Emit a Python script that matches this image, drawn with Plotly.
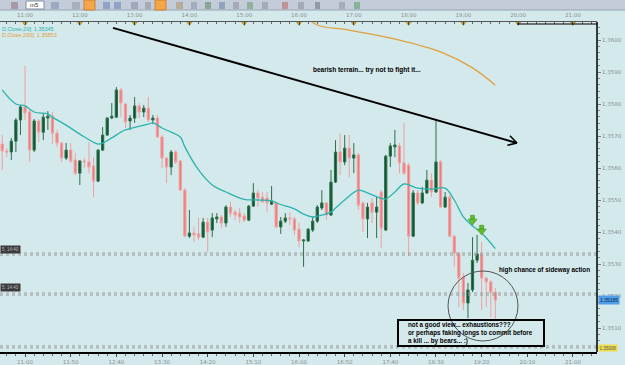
import plotly.graph_objects as go
import pandas as pd

DAY = "2011-06-14"
times = pd.date_range(f"{DAY} 10:35", periods=109, freq="5min")

opens = [1.35675, 1.35653, 1.35650, 1.35684, 1.35750, 1.35791, 1.35775, 1.35656, 1.35747, 1.35712,
         1.35756, 1.35762, 1.35709, 1.35678, 1.35631, 1.35656, 1.35625, 1.35584, 1.35622, 1.35619,
         1.35606, 1.35559, 1.35656, 1.35703, 1.35756, 1.35759, 1.35844, 1.35800, 1.35747, 1.35756,
         1.35794, 1.35775, 1.35787, 1.35750, 1.35756, 1.35697, 1.35631, 1.35603, 1.35650, 1.35622,
         1.35531, 1.35387, 1.35397, 1.35394, 1.35384, 1.35431, 1.35406, 1.35441, 1.35447, 1.35428,
         1.35478, 1.35462, 1.35459, 1.35450, 1.35437, 1.35481, 1.35522, 1.35509, 1.35506, 1.35487,
         1.35491, 1.35416, 1.35434, 1.35444, 1.35441, 1.35409, 1.35372, 1.35372, 1.35406, 1.35434,
         1.35475, 1.35491, 1.35453, 1.35556, 1.35650, 1.35619, 1.35662, 1.35631, 1.35641, 1.35491,
         1.35441, 1.35491, 1.35462, 1.35525, 1.35406, 1.35637, 1.35666, 1.35669, 1.35616, 1.35609,
         1.35387, 1.35522, 1.35491, 1.35522, 1.35562, 1.35525, 1.35619, 1.35478, 1.35509, 1.35387,
         1.35334, 1.35259, 1.35178, 1.35219, 1.35312, 1.35331, 1.35256, 1.35244, 1.35212]
highs = [1.35703, 1.35662, 1.35694, 1.35756, 1.35797, 1.35919, 1.35781, 1.35753, 1.35753, 1.35772,
         1.35778, 1.35775, 1.35719, 1.35681, 1.35678, 1.35678, 1.35647, 1.35625, 1.35631, 1.35681,
         1.35634, 1.35659, 1.35728, 1.35759, 1.35803, 1.35853, 1.35850, 1.35803, 1.35766, 1.35822,
         1.35803, 1.35797, 1.35822, 1.35766, 1.35766, 1.35703, 1.35634, 1.35656, 1.35656, 1.35625,
         1.35537, 1.35469, 1.35416, 1.35444, 1.35444, 1.35444, 1.35459, 1.35459, 1.35453, 1.35484,
         1.35494, 1.35469, 1.35475, 1.35459, 1.35484, 1.35553, 1.35531, 1.35525, 1.35525, 1.35544,
         1.35494, 1.35447, 1.35459, 1.35462, 1.35447, 1.35428, 1.35378, 1.35412, 1.35447, 1.35484,
         1.35531, 1.35494, 1.35594, 1.35687, 1.35709, 1.35703, 1.35703, 1.35678, 1.35647, 1.35494,
         1.35491, 1.35506, 1.35509, 1.35531, 1.35641, 1.35678, 1.35719, 1.35678, 1.35741, 1.35616,
         1.35531, 1.35531, 1.35541, 1.35594, 1.35584, 1.35750, 1.35625, 1.35525, 1.35516, 1.35391,
         1.35337, 1.35272, 1.35241, 1.35384, 1.35391, 1.35369, 1.35259, 1.35250, 1.35225]
lows = [1.35594, 1.35634, 1.35625, 1.35650, 1.35703, 1.35750, 1.35619, 1.35650, 1.35681, 1.35687,
        1.35719, 1.35675, 1.35666, 1.35619, 1.35625, 1.35616, 1.35578, 1.35547, 1.35600, 1.35584,
        1.35509, 1.35556, 1.35653, 1.35700, 1.35753, 1.35756, 1.35759, 1.35725, 1.35719, 1.35741,
        1.35756, 1.35759, 1.35744, 1.35737, 1.35694, 1.35600, 1.35553, 1.35578, 1.35612, 1.35528,
        1.35384, 1.35381, 1.35369, 1.35375, 1.35381, 1.35337, 1.35384, 1.35428, 1.35412, 1.35416,
        1.35447, 1.35437, 1.35428, 1.35431, 1.35434, 1.35478, 1.35478, 1.35491, 1.35462, 1.35484,
        1.35412, 1.35394, 1.35428, 1.35422, 1.35391, 1.35353, 1.35291, 1.35369, 1.35400, 1.35428,
        1.35469, 1.35437, 1.35450, 1.35553, 1.35578, 1.35609, 1.35572, 1.35584, 1.35469, 1.35400,
        1.35381, 1.35428, 1.35381, 1.35350, 1.35403, 1.35603, 1.35634, 1.35584, 1.35578, 1.35325,
        1.35384, 1.35484, 1.35487, 1.35519, 1.35509, 1.35522, 1.35475, 1.35475, 1.35384, 1.35291,
        1.35166, 1.35156, 1.35131, 1.35212, 1.35303, 1.35156, 1.35166, 1.35134, 1.35125]
closes = [1.35653, 1.35650, 1.35684, 1.35750, 1.35791, 1.35772, 1.35656, 1.35747, 1.35712, 1.35759,
          1.35762, 1.35709, 1.35678, 1.35631, 1.35656, 1.35622, 1.35584, 1.35622, 1.35619, 1.35603,
          1.35559, 1.35656, 1.35703, 1.35756, 1.35762, 1.35844, 1.35803, 1.35744, 1.35756, 1.35794,
          1.35775, 1.35787, 1.35750, 1.35756, 1.35697, 1.35631, 1.35603, 1.35650, 1.35619, 1.35531,
          1.35387, 1.35397, 1.35391, 1.35384, 1.35431, 1.35400, 1.35444, 1.35447, 1.35428, 1.35478,
          1.35459, 1.35453, 1.35447, 1.35437, 1.35481, 1.35522, 1.35506, 1.35494, 1.35491, 1.35497,
          1.35416, 1.35434, 1.35444, 1.35441, 1.35406, 1.35372, 1.35375, 1.35409, 1.35434, 1.35478,
          1.35491, 1.35453, 1.35556, 1.35650, 1.35619, 1.35662, 1.35631, 1.35641, 1.35484, 1.35441,
          1.35478, 1.35462, 1.35478, 1.35412, 1.35637, 1.35669, 1.35672, 1.35616, 1.35584, 1.35387,
          1.35522, 1.35491, 1.35522, 1.35562, 1.35525, 1.35619, 1.35478, 1.35509, 1.35387, 1.35334,
          1.35256, 1.35178, 1.35219, 1.35312, 1.35331, 1.35256, 1.35244, 1.35212, 1.35187]

# moving averages (candle index -> value)
ma20_idx = [0, 3, 5, 7, 10, 11, 14, 18, 21, 22, 24, 26, 27, 29, 32, 33, 35, 37, 39, 40,
            43, 46, 49, 53, 56, 59, 61, 64, 66, 68, 70, 72, 73, 75, 78, 80, 83, 84, 86, 88,
            91, 94, 97, 99, 101, 103, 105, 108]
ma20_val = [1.35844, 1.35800, 1.35794, 1.35775, 1.35769, 1.35759, 1.35734, 1.35697, 1.35675, 1.35678,
            1.35694, 1.35712, 1.35719, 1.35727, 1.35737, 1.35741, 1.35725, 1.35712, 1.35697, 1.35666,
            1.35594, 1.35547, 1.35525, 1.35502, 1.35500, 1.35497, 1.35486, 1.35472, 1.35456, 1.35447,
            1.35453, 1.35462, 1.35475, 1.35500, 1.35531, 1.35522, 1.35505, 1.35503, 1.35525, 1.35550,
            1.35537, 1.35534, 1.35537, 1.35500, 1.35447, 1.35419, 1.35397, 1.35348]
ma200_idx = [66, 69, 76, 87, 96, 103, 108]
ma200_val = [1.36080, 1.36047, 1.36031, 1.36000, 1.35963, 1.35913, 1.35859]

levels = [1.35331, 1.35206, 1.35041]
signal_idx = [103, 105]
signal_val = [1.35434, 1.35403]
hour_marks = [f"{DAY} {h:02d}:00" for h in range(11, 22)]

W, H = 625, 365
BG = "#d4e9eb"
def px(x): return x / W
def py(y): return 1 - y / H

XR = [f"{DAY} 10:32:36", f"{DAY} 21:26:18"]
YR = [1.35025, 1.360563]

fig = go.Figure()
fig.add_trace(go.Candlestick(
    x=times, open=opens, high=highs, low=lows, close=closes,
    increasing=dict(line=dict(color="#2f6e4c", width=1), fillcolor="#0a5530"),
    decreasing=dict(line=dict(color="#f0a0a0", width=1), fillcolor="#f07878"),
    whiskerwidth=0, showlegend=False, hoverinfo="skip"))
fig.add_trace(go.Scatter(x=[times[i] for i in ma20_idx], y=ma20_val, mode="lines",
                         line=dict(color="#2bb3ad", width=1.3, shape="spline"), showlegend=False))
fig.add_trace(go.Scatter(x=[times[i] for i in ma200_idx], y=ma200_val, mode="lines",
                         line=dict(color="#e0a040", width=1.3, shape="spline"), showlegend=False))
# signal arrows (shaft + head)
fig.add_trace(go.Scatter(x=[times[i] for i in signal_idx], y=[v + 0.00012 for v in signal_val],
                         mode="markers", marker=dict(symbol="square", size=4, color="#5fbf2f",
                         line=dict(color="#3a8a1a", width=0.5)), showlegend=False))
fig.add_trace(go.Scatter(x=[times[i] for i in signal_idx], y=signal_val,
                         mode="markers", marker=dict(symbol="triangle-down", size=8, color="#5fbf2f",
                         line=dict(color="#3a8a1a", width=0.5)), showlegend=False))
# gold hour markers sitting on the top time axis
fig.add_trace(go.Scatter(x=hour_marks, y=[YR[1] - 0.00003] * len(hour_marks), mode="markers",
                         cliponaxis=False, marker=dict(symbol="triangle-down", size=5, color="#d0a52a",
                         line=dict(color="#9a7a20", width=0.5)), showlegend=False, hoverinfo="skip"))
# dummy trace for top axis
fig.add_trace(go.Scatter(x=[times[0]], y=[None], xaxis="x2", showlegend=False))

shapes = []
# toolbar
shapes.append(dict(type="rect", xref="paper", yref="paper", x0=0, x1=1, y0=py(10), y1=1,
                   fillcolor="#c3ccd9", line=dict(width=0), layer="above"))
shapes.append(dict(type="line", xref="paper", yref="paper", x0=0, x1=1, y0=py(10), y1=py(10),
                   line=dict(color="#9aa4b2", width=1), layer="above"))
icons = [(11, 18, "#8a6f7a"), (51, 59, "#7b8bb0"), (72, 80, "#8e97a8"), (103, 110, "#6a7fb8"),
         (114, 121, "#6a7fb8"), (131, 138, "#7f8aa0"), (145, 151, "#8a8f99"), (176, 183, "#b09060"),
         (191, 197, "#8a90a0"), (205, 211, "#5a8a5a"), (219, 225, "#6a80a0"), (233, 239, "#8a8f99"),
         (247, 253, "#6a9a6a"), (262, 268, "#8a8f99"), (282, 288, "#c06060"), (298, 304, "#8a8f99"),
         (315, 320, "#6a7080"), (339, 345, "#9090a0"), (354, 360, "#5a9a6a")]
for a, b, c in icons:
    shapes.append(dict(type="rect", xref="paper", yref="paper", x0=px(a), x1=px(b), y0=py(9), y1=py(2),
                       fillcolor=c, line=dict(width=0), opacity=0.55, layer="above"))
for a, b in [(84, 95), (155, 166)]:
    shapes.append(dict(type="rect", xref="paper", yref="paper", x0=px(a), x1=px(b), y0=py(10), y1=py(0),
                       fillcolor="#f3a64a", line=dict(color="#d08030", width=1), layer="above"))
shapes.append(dict(type="rect", xref="paper", yref="paper", x0=px(26), x1=px(44), y0=py(9), y1=py(1),
                   fillcolor="white", line=dict(color="#8090a0", width=1), layer="above"))
# dotted double level lines
for lv in levels:
    for off in (0.00003, -0.00003):
        shapes.append(dict(type="line", xref="paper", yref="y", x0=0, x1=px(597), y0=lv + off, y1=lv + off,
                           line=dict(color="#9a9a9a", width=1, dash="dot")))
# trend line with open arrow head
shapes.append(dict(type="line", xref="x", yref="y", x0=f"{DAY} 12:36:18", y0=1.36038,
                   x1=f"{DAY} 19:58:42", y1=1.35678, line=dict(color="black", width=2)))
for ax_, ay_ in [(f"{DAY} 19:51:00", 1.35701), (f"{DAY} 19:48:06", 1.35671)]:
    shapes.append(dict(type="line", xref="x", yref="y", x0=ax_, y0=ay_,
                       x1=f"{DAY} 19:58:42", y1=1.35678, line=dict(color="black", width=1.5)))
# circle and note box
shapes.append(dict(type="circle", xref="paper", yref="paper", x0=px(448), x1=px(518), y0=py(341), y1=py(271),
                   line=dict(color="#555555", width=1)))
shapes.append(dict(type="rect", xref="paper", yref="paper", x0=px(398), x1=px(544), y0=py(346), y1=py(320),
                   line=dict(color="black", width=2), fillcolor="rgba(0,0,0,0)"))
# right frame and top-right frame edge
shapes.append(dict(type="line", xref="paper", yref="paper", x0=px(597), x1=px(597), y0=py(352), y1=py(22),
                   line=dict(color="black", width=1.5)))
shapes.append(dict(type="line", xref="paper", yref="paper", x0=px(517), x1=px(597), y0=py(24), y1=py(24),
                   line=dict(color="black", width=1.2)))

ann = []
F = "Liberation Sans"
ann.append(dict(text="D,Close,20]: 1.35345", x=0, y=py(29), xref="paper", yref="paper", xanchor="left",
                yanchor="middle", showarrow=False, font=dict(family=F, size=5.5, color="#2bb3ad")))
ann.append(dict(text="D,Close,200]: 1.35853", x=0, y=py(35.5), xref="paper", yref="paper", xanchor="left",
                yanchor="middle", showarrow=False, font=dict(family=F, size=5.5, color="#e0a040")))
ann.append(dict(text="m5", x=px(28), y=py(5), xref="paper", yref="paper", xanchor="left", yanchor="middle",
                showarrow=False, font=dict(family=F, size=6, color="#333")))
ann.append(dict(text="<b>bearish terrain... try not to fight it...</b>", x=px(311), y=py(70), xref="paper",
                yref="paper", xanchor="left", yanchor="middle", showarrow=False,
                font=dict(family=F, size=6.5, color="black")))
ann.append(dict(text="<b>high chance of sideway action</b>", x=px(497), y=py(270), xref="paper",
                yref="paper", xanchor="left", yanchor="middle", showarrow=False,
                font=dict(family=F, size=6.3, color="black")))
ann.append(dict(text="<b>not a good view... exhaustions???<br>or perhaps faking longs to commit before<br>a kill ... by bears... :)</b>",
                x=px(406), y=py(333), xref="paper", yref="paper", xanchor="left", yanchor="middle",
                align="left", showarrow=False, font=dict(family=F, size=6.3, color="black")))
for yy in (249, 287.5):
    ann.append(dict(text="5, 14:40", x=0, y=py(yy), xref="paper", yref="paper", xanchor="left",
                    yanchor="middle", showarrow=False, bgcolor="#3c3c3c", borderpad=1,
                    font=dict(family=F, size=4.5, color="#bbbbbb")))
ann.append(dict(text="1.35185", x=px(598), y=closes[-1], xref="paper", yref="y", xanchor="left",
                yanchor="middle", showarrow=False, bgcolor="#4f9ee6", borderpad=1,
                font=dict(family=F, size=5, color="#0a2a50")))
ann.append(dict(text="1.35008", x=px(598), y=py(348), xref="paper", yref="paper", xanchor="left",
                yanchor="middle", showarrow=False, bgcolor="#f2de4a", borderpad=0.5,
                font=dict(family=F, size=4.5, color="#555")))

tickfont = dict(family="DejaVu Sans", size=5.5, color="#8a9090")
fig.update_layout(
    width=W, height=H, autosize=False, margin=dict(l=0, r=0, t=0, b=0),
    paper_bgcolor=BG, plot_bgcolor=BG, showlegend=False,
    xaxis=dict(type="date", range=XR, domain=[0, px(597)], anchor="y", side="bottom",
               rangeslider=dict(visible=False), showgrid=False, zeroline=False,
               showline=True, linecolor="black", linewidth=2,
               tick0=f"{DAY} 11:00", dtick=3000000, tickformat="%H:%M", ticks="outside", ticklen=3,
               tickcolor="#444", tickfont=tickfont, ticklabelstandoff=0,
               minor=dict(dtick=600000, ticks="outside", ticklen=2, tickcolor="#666")),
    xaxis2=dict(type="date", range=XR, domain=[0, px(597)], overlaying="x", anchor="y", side="top",
                showgrid=False, zeroline=False, showline=True, linecolor="#555", linewidth=1,
                tick0=f"{DAY} 11:00", dtick=3600000, tickformat="%H:%M", ticks="inside", ticklen=3,
                tickcolor="#444", tickfont=tickfont, ticklabelstandoff=2,
                minor=dict(dtick=600000, ticks="inside", ticklen=2, tickcolor="#666")),
    yaxis=dict(range=YR, domain=[13 / H, 343 / H], side="right", anchor="x", showgrid=False,
               zeroline=False, showline=False, dtick=0.001, tick0=1.35, tickformat=".4f",
               ticks="outside", ticklen=3, tickcolor="#777", tickfont=tickfont,
               minor=dict(dtick=0.0002, ticks="outside", ticklen=2, tickcolor="#888")),
    shapes=shapes, annotations=ann,
)
fig.write_html("out.html")
